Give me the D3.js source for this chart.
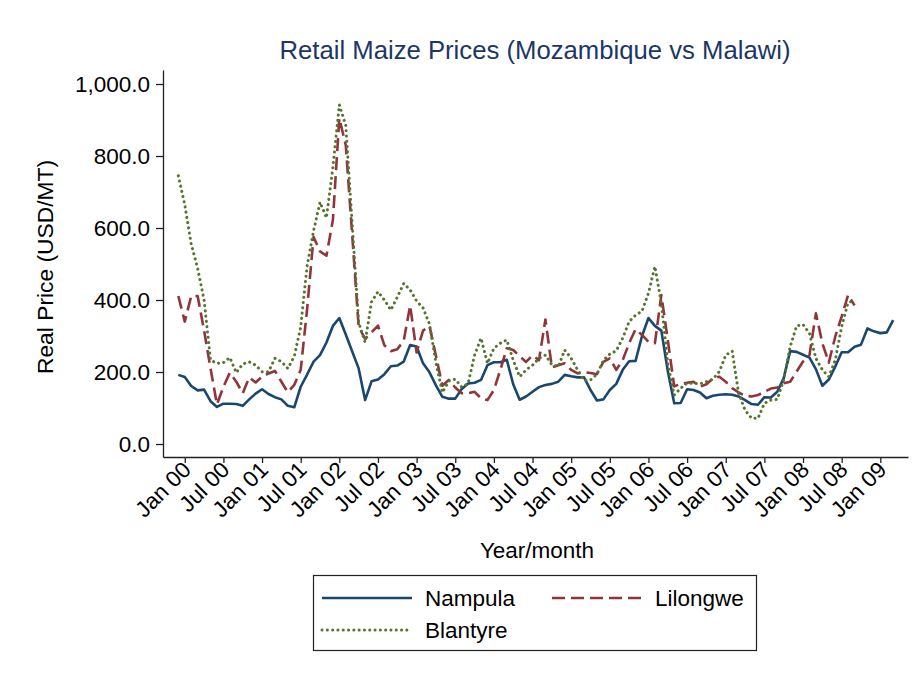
<!DOCTYPE html>
<html>
<head>
<meta charset="utf-8">
<script src="https://cdn.jsdelivr.net/npm/d3@7/dist/d3.min.js"></script>
<style>
body { margin: 0; background: #fff; }
text { font-family: "Liberation Sans", Arial, sans-serif; fill: #000; }
</style>
</head>
<body>
<div id="graph"></div>
<script>
// monthly retail maize prices, first month = Dec 1999
const firstMonth = "Dec 99";

const nampula = [192, 186, 161, 149, 151, 119, 103, 112, 112, 111, 106, 124, 140, 152, 139, 130, 124, 106, 102, 159,
    193, 229, 247, 282, 328, 350, 304, 257, 210, 122, 174, 179, 194, 216, 218, 229, 275, 271, 224, 199,
    163, 131, 126, 126, 153, 168, 170, 178, 219, 227, 227, 234, 166, 123, 132, 145, 158, 164, 167, 173,
    192, 188, 185, 185, 150, 121, 124, 150, 167, 206, 230, 231, 300, 350, 328, 315, 203, 113, 114, 152,
    150, 143, 127, 134, 137, 138, 137, 132, 122, 111, 109, 130, 129, 145, 183, 258, 256, 248, 240, 208,
    162, 179, 215, 255, 255, 270, 276, 321, 313, 308, 310, 344];

const lilongwe = [411, 340, 411, 411, 315, 210, 110, 159, 198, 173, 141, 185, 171, 187, 196, 203, 173, 144, 164, 206,
    375, 575, 535, 523, 622, 905, 830, 580, 326, 292, 310, 329, 274, 258, 263, 287, 385, 254, 315, 328,
    245, 162, 178, 157, 141, 141, 145, 127, 122, 150, 206, 266, 261, 244, 228, 246, 233, 346, 213, 219,
    224, 206, 196, 200, 197, 194, 228, 238, 206, 233, 280, 319, 303, 284, 280, 414, 289, 160, 167, 170,
    173, 159, 166, 182, 187, 173, 155, 143, 134, 132, 136, 145, 154, 157, 169, 173, 201, 229, 247, 363,
    280, 226, 298, 354, 414, 385];

const blantyre = [745, 665, 555, 488, 400, 233, 224, 226, 240, 198, 222, 228, 219, 201, 201, 238, 229, 210, 243, 325,
    495, 592, 672, 628, 768, 942, 885, 610, 338, 282, 395, 423, 400, 372, 408, 446, 428, 397, 378, 333,
    226, 143, 175, 180, 158, 168, 247, 294, 224, 266, 280, 289, 233, 187, 206, 219, 238, 247, 220, 215,
    261, 238, 206, 177, 178, 194, 232, 250, 259, 294, 340, 358, 369, 419, 493, 391, 224, 136, 155, 169,
    169, 167, 173, 180, 201, 247, 258, 141, 94, 72, 71, 113, 122, 124, 178, 270, 328, 332, 307, 238,
    206, 187, 233, 326, 393, 398];

const seriesNames = ["Nampula", "Lilongwe", "Blantyre"];
const xTickLabels = ["Jan 00", "Jul 00", "Jan 01", "Jul 01", "Jan 02", "Jul 02", "Jan 03", "Jul 03", "Jan 04",
    "Jul 04", "Jan 05", "Jul 05", "Jan 06", "Jul 06", "Jan 07", "Jul 07", "Jan 08", "Jul 08", "Jan 09"];
const yTickValues = [0, 200, 400, 600, 800, 1000];

const width = 914, height = 674;
const plot = {left: 163, right: 908, top: 70, bottom: 457};

let svg = d3.select("#graph")
    .append("svg")
    .attr("width", width)
    .attr("height", height);

// x scale runs on month index (0 = Dec 99), a bit of room either side like stata
let x = d3.scaleLinear()
    .domain([-2.38, 113.3])
    .range([plot.left, plot.right]);

let y = d3.scaleLinear()
    .domain([-36.1, 1038.9])
    .range([plot.bottom, plot.top]);

// tick positions: Jan 00 is month 1, then every 6 months
let xTickIdx = xTickLabels.map(function(d, i) { return 1 + 6 * i; });

// y axis
let yAxis = svg.append("g")
    .attr("transform", `translate(${plot.left}, 0)`)
    .call(d3.axisLeft(y)
        .tickValues(yTickValues)
        .tickSize(7)
        .tickSizeOuter(0)
        .tickPadding(6)
        .tickFormat(d3.format(",.1f")));
yAxis.selectAll("text").style("font-size", "22.5px");

// x axis with rotated month labels
let xAxis = svg.append("g")
    .attr("transform", `translate(0, ${plot.bottom})`)
    .call(d3.axisBottom(x)
        .tickValues(xTickIdx)
        .tickSize(6)
        .tickSizeOuter(0)
        .tickFormat(function(d, i) { return xTickLabels[i]; }));
xAxis.selectAll("text")
    .style("font-size", "22.5px")
    .style("text-anchor", "end")
    .attr("x", -5)
    .attr("y", 7)
    .attr("dy", "0.35em")
    .attr("transform", "rotate(-45)");

svg.selectAll(".domain, .tick line")
    .attr("stroke", "#222")
    .attr("stroke-width", 1.3);

// the three price lines
let line = d3.line()
    .x(function(d, i) { return x(i); })
    .y(function(d) { return y(d); });

let styles = [
    {data: nampula, color: "#1a476f", dash: null, cap: "butt", w: 2.6},
    {data: lilongwe, color: "#90353b", dash: "13,6", cap: "butt", w: 2.6},
    {data: blantyre, color: "#55752f", dash: "0.1,5.2", cap: "round", w: 3}
];

svg.append("g")
    .selectAll("path")
    .data(styles)
    .enter()
    .append("path")
    .attr("d", function(d) { return line(d.data); })
    .attr("fill", "none")
    .attr("stroke", function(d) { return d.color; })
    .attr("stroke-width", function(d) { return d.w; })
    .attr("stroke-dasharray", function(d) { return d.dash; })
    .attr("stroke-linecap", function(d) { return d.cap; })
    .attr("stroke-linejoin", "round");

// title
svg.append("text")
    .attr("x", 535)
    .attr("y", 59)
    .style("text-anchor", "middle")
    .style("font-size", "25.7px")
    .style("fill", "#1c3766")
    .text("Retail Maize Prices (Mozambique vs Malawi)");

// axis titles
svg.append("text")
    .attr("transform", "translate(53, 267) rotate(-90)")
    .style("text-anchor", "middle")
    .style("font-size", "22.8px")
    .text("Real Price (USD/MT)");

svg.append("text")
    .attr("x", 537)
    .attr("y", 558)
    .style("text-anchor", "middle")
    .style("font-size", "22.5px")
    .text("Year/month");

// legend
let legend = svg.append("g");
legend.append("rect")
    .attr("x", 313.5)
    .attr("y", 575.5)
    .attr("width", 443)
    .attr("height", 75)
    .attr("fill", "#fff")
    .attr("stroke", "#222")
    .attr("stroke-width", 1.2);

let legendPos = [
    {x: 322, y: 598},
    {x: 552, y: 598},
    {x: 322, y: 630}
];

let items = legend.selectAll("g.item")
    .data(styles)
    .enter()
    .append("g")
    .attr("class", "item")
    .attr("transform", function(d, i) { return `translate(${legendPos[i].x}, ${legendPos[i].y})`; });

items.append("line")
    .attr("x1", 0)
    .attr("x2", 90)
    .attr("stroke", function(d) { return d.color; })
    .attr("stroke-width", function(d) { return d.w; })
    .attr("stroke-dasharray", function(d) { return d.dash; })
    .attr("stroke-linecap", function(d) { return d.cap; });

items.append("text")
    .attr("x", 103)
    .attr("dy", "0.35em")
    .style("font-size", "22.5px")
    .text(function(d, i) { return seriesNames[i]; });
</script>
</body>
</html>
